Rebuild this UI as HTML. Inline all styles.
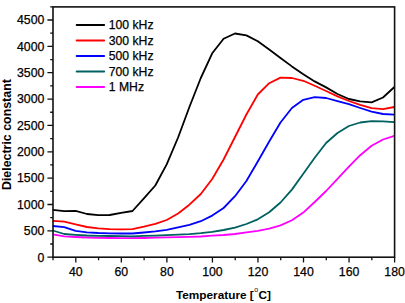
<!DOCTYPE html>
<html><head><meta charset="utf-8"><style>
html,body{margin:0;padding:0;background:#fff;}
svg{display:block;}
text{font-family:"Liberation Sans",sans-serif;font-size:12.3px;fill:#000;stroke:#000;stroke-width:0.25px;}
.b{font-weight:bold;stroke-width:0;}
</style></head><body>
<svg width="405" height="303" viewBox="0 0 405 303">
<rect x="0" y="0" width="405" height="303" fill="#fff"/>
<g fill="none" stroke-width="1.8" stroke-linejoin="round" stroke-linecap="butt">
<polyline points="52.8,234.3 64.2,236.3 75.6,237.0 87.0,237.5 98.3,237.8 109.7,238.0 121.1,238.1 132.5,238.2 143.9,238.0 155.3,237.6 166.7,237.4 178.1,237.2 189.4,236.8 200.8,236.5 212.2,235.7 223.6,235.0 235.0,234.0 246.4,232.4 257.8,230.8 269.2,228.6 280.5,225.4 291.9,220.3 303.3,212.6 314.7,202.0 326.1,191.0 337.5,178.8 348.9,166.6 360.2,155.2 371.6,145.8 383.0,139.5 394.4,135.8" stroke="#ff00ff"/>
<polyline points="52.8,230.5 64.2,234.0 75.6,234.8 87.0,235.5 98.3,235.8 109.7,236.0 121.1,236.2 132.5,236.3 143.9,235.9 155.3,235.6 166.7,235.2 178.1,234.6 189.4,234.1 200.8,233.1 212.2,231.8 223.6,230.0 235.0,227.6 246.4,224.0 257.8,219.3 269.2,212.3 280.5,202.5 291.9,189.6 303.3,173.8 314.7,157.8 326.1,143.0 337.5,133.0 348.9,126.0 360.2,122.5 371.6,121.1 383.0,121.3 394.4,122.1" stroke="#006060"/>
<polyline points="52.8,226.0 64.2,227.2 75.6,230.9 87.0,232.3 98.3,233.0 109.7,233.3 121.1,233.5 132.5,233.5 143.9,232.5 155.3,231.3 166.7,229.8 178.1,227.4 189.4,224.8 200.8,221.2 212.2,215.6 223.6,208.0 235.0,196.2 246.4,181.0 257.8,161.5 269.2,141.5 280.5,122.5 291.9,108.0 303.3,99.8 314.7,97.1 326.1,98.0 337.5,101.2 348.9,104.2 360.2,108.0 371.6,111.7 383.0,114.0 394.4,114.6" stroke="#0000ff"/>
<polyline points="52.8,220.9 64.2,221.7 75.6,224.3 87.0,227.0 98.3,228.4 109.7,229.1 121.1,229.4 132.5,229.2 143.9,226.7 155.3,223.9 166.7,220.0 178.1,213.5 189.4,204.7 200.8,194.0 212.2,179.0 223.6,159.5 235.0,137.0 246.4,114.5 257.8,94.5 269.2,83.2 280.5,77.6 291.9,78.0 303.3,80.8 314.7,85.8 326.1,91.0 337.5,96.4 348.9,101.0 360.2,104.8 371.6,108.2 383.0,109.2 394.4,107.0" stroke="#ff0000"/>
<polyline points="52.8,209.9 64.2,211.2 75.6,210.9 87.0,214.0 98.3,215.1 109.7,215.0 121.1,212.8 132.5,211.0 143.9,198.4 155.3,185.5 166.7,164.4 178.1,137.5 189.4,107.0 200.8,78.0 212.2,53.3 223.6,38.7 235.0,33.5 246.4,35.4 257.8,41.3 269.2,49.6 280.5,58.0 291.9,66.4 303.3,74.3 314.7,81.4 326.1,87.4 337.5,94.0 348.9,99.0 360.2,101.4 371.6,102.4 383.0,97.5 394.4,87.0" stroke="#000"/>
</g>
<rect x="53.0" y="6.9" width="341.6" height="250.3" fill="none" stroke="#111" stroke-width="1.6"/>
<path d="M47.4 257.20H53.0 M47.4 230.84H53.0 M47.4 204.49H53.0 M47.4 178.13H53.0 M47.4 151.78H53.0 M47.4 125.42H53.0 M47.4 99.07H53.0 M47.4 72.71H53.0 M47.4 46.36H53.0 M47.4 20.00H53.0 M50.2 244.02H53.0 M50.2 217.67H53.0 M50.2 191.31H53.0 M50.2 164.96H53.0 M50.2 138.60H53.0 M50.2 112.24H53.0 M50.2 85.89H53.0 M50.2 59.53H53.0 M50.2 33.18H53.0 M50.2 6.82H53.0 M75.80 257.2V262.5 M121.34 257.2V262.5 M166.89 257.2V262.5 M212.43 257.2V262.5 M257.97 257.2V262.5 M303.51 257.2V262.5 M349.06 257.2V262.5 M394.60 257.2V262.5 M53.03 257.2V260.2 M98.57 257.2V260.2 M144.11 257.2V260.2 M189.66 257.2V260.2 M235.20 257.2V260.2 M280.74 257.2V260.2 M326.29 257.2V260.2 M371.83 257.2V260.2" stroke="#111" stroke-width="1.3" fill="none"/>
<text x="44.4" y="261.5" text-anchor="end">0</text><text x="44.4" y="235.1" text-anchor="end">500</text><text x="44.4" y="208.8" text-anchor="end">1000</text><text x="44.4" y="182.4" text-anchor="end">1500</text><text x="44.4" y="156.1" text-anchor="end">2000</text><text x="44.4" y="129.7" text-anchor="end">2500</text><text x="44.4" y="103.4" text-anchor="end">3000</text><text x="44.4" y="77.0" text-anchor="end">3500</text><text x="44.4" y="50.7" text-anchor="end">4000</text><text x="44.4" y="24.3" text-anchor="end">4500</text>
<text x="75.8" y="275.7" text-anchor="middle">40</text><text x="121.3" y="275.7" text-anchor="middle">60</text><text x="166.9" y="275.7" text-anchor="middle">80</text><text x="212.4" y="275.7" text-anchor="middle">100</text><text x="258.0" y="275.7" text-anchor="middle">120</text><text x="303.5" y="275.7" text-anchor="middle">140</text><text x="349.1" y="275.7" text-anchor="middle">160</text><text x="394.6" y="275.7" text-anchor="middle">180</text>
<g fill="none"><path d="M76.7 25.0H104.1" stroke="#000000" stroke-width="2" stroke-linecap="round"/><text x="108.8" y="29.2" style="font-size:12.2px">100 kHz</text><path d="M76.7 40.5H104.1" stroke="#ff0000" stroke-width="2" stroke-linecap="round"/><text x="108.8" y="44.7" style="font-size:12.2px">300 kHz</text><path d="M76.7 56.0H104.1" stroke="#0000ff" stroke-width="2" stroke-linecap="round"/><text x="108.8" y="60.2" style="font-size:12.2px">500 kHz</text><path d="M76.7 71.5H104.1" stroke="#006060" stroke-width="2" stroke-linecap="round"/><text x="108.8" y="75.7" style="font-size:12.2px">700 kHz</text><path d="M76.7 87.0H104.1" stroke="#ff00ff" stroke-width="2" stroke-linecap="round"/><text x="108.8" y="91.2" style="font-size:12.2px">1 MHz</text></g>
<text class="b" x="223.5" y="298.7" text-anchor="middle" style="font-size:11.8px">Temperature [<tspan style="font-size:7px;font-weight:normal" dx="0.6" dy="-6.3">o</tspan><tspan dx="0.3" dy="6.3">C]</tspan></text>
<text class="b" transform="translate(10.5,134.6) rotate(-90)" text-anchor="middle" style="font-size:12.4px">Dielectric constant</text>
</svg>
</body></html>
